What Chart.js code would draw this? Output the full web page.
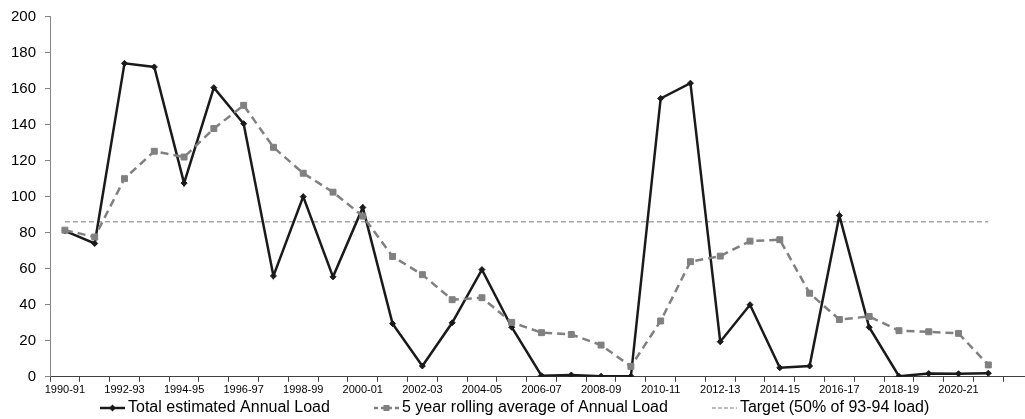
<!DOCTYPE html>
<html>
<head>
<meta charset="utf-8">
<script src="https://cdn.jsdelivr.net/npm/chart.js@4.4.0/dist/chart.umd.min.js"></script>
<style>
  html, body { margin: 0; padding: 0; background: #fff; overflow: hidden; }
  #wrap { width: 1040px; height: 419px; }
</style>
</head>
<body>
<div id="wrap"><canvas id="load" width="1040" height="419"></canvas></div>
<script>
// financial years on the x axis (the axis runs one year past the last reading)
const years = [
  '1990-91', '1991-92', '1992-93', '1993-94', '1994-95', '1995-96', '1996-97', '1997-98',
  '1998-99', '1999-00', '2000-01', '2001-02', '2002-03', '2003-04', '2004-05', '2005-06',
  '2006-07', '2007-08', '2008-09', '2009-10', '2010-11', '2011-12', '2012-13', '2013-14',
  '2014-15', '2015-16', '2016-17', '2017-18', '2018-19', '2019-20', '2020-21', '2021-22',
  '2022-23'
];

const annualLoad = [
  81, 74, 174, 172, 107.5, 160.5, 140.5, 56,
  100, 55.5, 94, 29.5, 6, 30, 59.5, 27.5,
  0.6, 1, 0.3, 0.3, 154.5, 163, 19.5, 40,
  5, 6, 89.5, 27.5, 0.3, 1.8, 1.7, 2
];

const rollingAvg = [
  81.4, 77.6, 110, 125.2, 122, 137.8, 150.7, 127.4,
  113, 102.5, 89.2, 66.8, 56.7, 42.8, 43.9, 30.2,
  24.5, 23.5, 17.6, 5.8, 31, 63.9, 67, 75.3,
  76.1, 46.4, 31.8, 33.5, 25.6, 25, 24.1, 6.6
];

const targetLoad = [
  86, 86, 86, 86, 86, 86, 86, 86,
  86, 86, 86, 86, 86, 86, 86, 86,
  86, 86, 86, 86, 86, 86, 86, 86,
  86, 86, 86, 86, 86, 86, 86, 86
];

const seriesNames = [
  'Total estimated Annual Load',
  '5 year rolling average of Annual Load',
  'Target (50% of 93-94 load)'
];

const FONT = "'Liberation Sans', Arial, sans-serif";

// legend swatch: a short line with the series marker in the middle
const KEY_LEN = 25;
const KEY_GAP = 3;
const ITEM_GAP = 44;
function legendSymbol(color, width, dash, marker) {
  const c = document.createElement('canvas');
  c.width = KEY_LEN;
  c.height = 12;
  const g = c.getContext('2d');
  g.strokeStyle = color;
  g.lineWidth = width;
  g.setLineDash(dash);
  g.beginPath();
  g.moveTo(0, 6);
  g.lineTo(KEY_LEN, 6);
  g.stroke();
  g.fillStyle = color;
  const m = KEY_LEN / 2;
  if (marker === 'diamond') {
    g.beginPath();
    g.moveTo(m, 2.5); g.lineTo(m + 3.5, 6); g.lineTo(m, 9.5); g.lineTo(m - 3.5, 6);
    g.closePath();
    g.fill();
  } else if (marker === 'square') {
    g.fillRect(m - 3, 3, 6, 6);
  }
  return c;
}

const symbols = [
  legendSymbol('#1a1a1a', 2.5, [], 'diamond'),
  legendSymbol('#808080', 2.5, [4, 3], 'square'),
  legendSymbol('#a6a6a6', 1.5, [4, 2], null)
];

// one-row legend under the axis, line swatch followed by the series name
const keyLegend = {
  id: 'keyLegend',
  afterDraw(chart) {
    const ctx = chart.ctx;
    ctx.save();
    ctx.font = '16px ' + FONT;
    ctx.textBaseline = 'middle';
    ctx.fillStyle = '#000';
    const items = chart.data.datasets.map((ds, i) => ({
      text: ds.label,
      sym: symbols[i],
      w: ctx.measureText(ds.label).width
    }));
    const total = items.reduce((s, it) => s + KEY_LEN + KEY_GAP + it.w, 0) + ITEM_GAP * (items.length - 1);
    let x = Math.round(chart.width / 2 - 5 - total / 2);
    const y = chart.height - 11;
    items.forEach((it) => {
      ctx.drawImage(it.sym, x, y - it.sym.height / 2);
      x += KEY_LEN + KEY_GAP;
      ctx.fillText(it.text, x, y);
      x += it.w + ITEM_GAP;
    });
    ctx.restore();
  }
};

new Chart(document.getElementById('load'), {
  type: 'line',
  data: {
    labels: years,
    datasets: [
      {
        label: seriesNames[0],
        data: annualLoad,
        borderColor: '#1a1a1a',
        backgroundColor: '#1a1a1a',
        borderWidth: 2.5,
        pointStyle: 'rectRot',
        pointRadius: 3,
        pointBorderWidth: 1,
        tension: 0,
        order: 1
      },
      {
        label: seriesNames[1],
        data: rollingAvg,
        borderColor: '#808080',
        backgroundColor: '#808080',
        borderWidth: 2.5,
        borderDash: [8, 5],
        pointStyle: 'rect',
        pointRadius: 4.2,
        pointBorderWidth: 1,
        tension: 0,
        order: 0
      },
      {
        label: seriesNames[2],
        data: targetLoad,
        borderColor: '#a6a6a6',
        borderWidth: 1.5,
        borderDash: [5, 3],
        pointRadius: 0,
        tension: 0,
        order: 2
      }
    ]
  },
  plugins: [keyLegend],
  options: {
    responsive: false,
    animation: false,
    layout: { padding: { left: 2, right: 7, top: 12, bottom: 20 } },
    plugins: {
      tooltip: { enabled: false },
      legend: { display: false }
    },
    scales: {
      x: {
        offset: true,
        grid: {
          offset: true,
          drawOnChartArea: false,
          drawTicks: true,
          tickLength: 5,
          color: '#404040'
        },
        border: { color: '#404040', width: 1 },
        ticks: {
          autoSkip: false,
          maxRotation: 0,
          padding: 2,
          color: '#000',
          font: { family: FONT, size: 11 },
          callback: function (value, index) {
            return index % 2 === 0 && index < annualLoad.length ? this.getLabelForValue(value) : '';
          }
        }
      },
      y: {
        min: 0,
        max: 200,
        grid: {
          drawOnChartArea: false,
          drawTicks: true,
          tickLength: 5,
          color: '#868686'
        },
        border: { color: '#868686', width: 1 },
        ticks: {
          stepSize: 20,
          padding: 9,
          color: '#000',
          font: { family: FONT, size: 15, lineHeight: 1 }
        }
      }
    }
  }
});
</script>
</body>
</html>
